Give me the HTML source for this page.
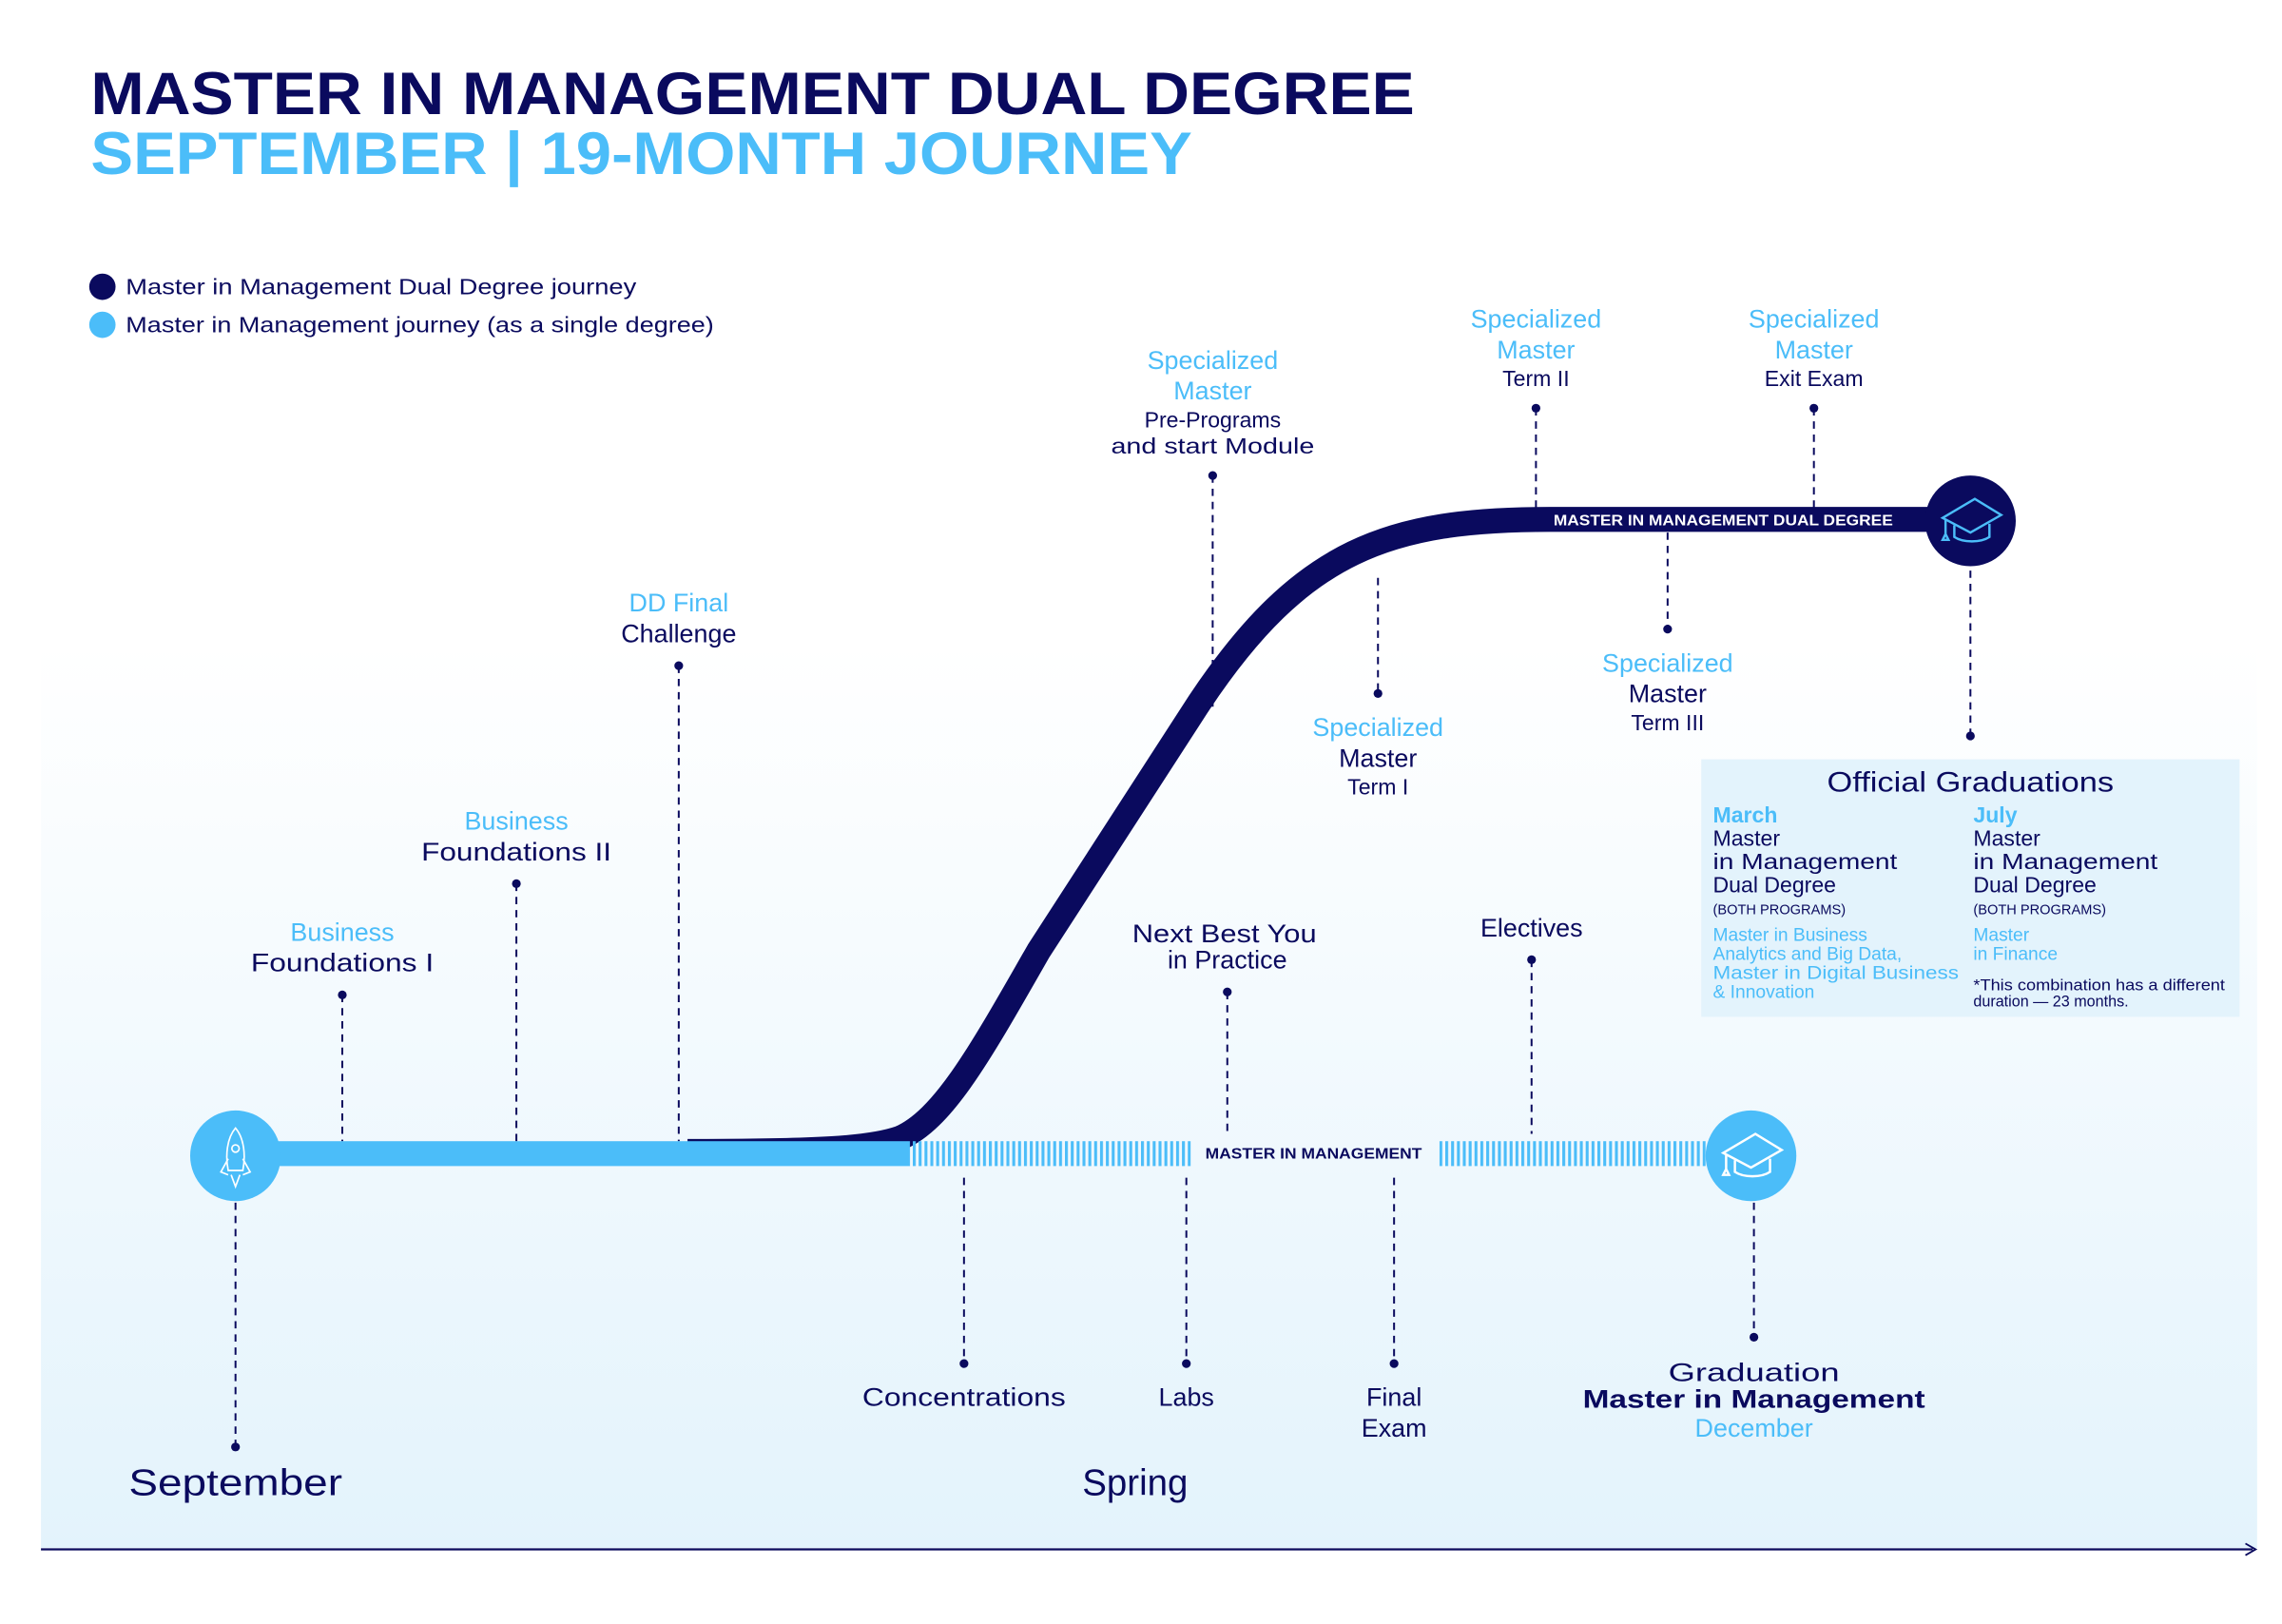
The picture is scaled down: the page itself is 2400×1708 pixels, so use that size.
<!DOCTYPE html>
<html><head><meta charset="utf-8"><style>
html,body{margin:0;padding:0;background:#fff}
svg{display:block}
text{font-family:"Liberation Sans",sans-serif}
</style></head><body>
<svg width="2400" height="1708" viewBox="0 0 1560 1110" preserveAspectRatio="none" xmlns="http://www.w3.org/2000/svg">
<defs>
<linearGradient id="bg" x1="0" y1="0" x2="0" y2="1">
<stop offset="0" stop-color="#ffffff"/><stop offset="1" stop-color="#e3f3fc"/>
</linearGradient>
<pattern id="stripe" width="4" height="20" patternUnits="userSpaceOnUse">
<rect x="0" y="0" width="2" height="20" fill="#4bbdf9"/>
</pattern>
</defs>
<rect x="28" y="440" width="1515" height="618" fill="url(#bg)"/>
<line x1="28" y1="1059" x2="1540" y2="1059" stroke="#0a0a5e" stroke-width="1.5"/>
<path d="M1535 1055 L1542 1059 L1535 1063" fill="none" stroke="#0a0a5e" stroke-width="1.2"/>

<!-- title -->
<text x="62" y="78" font-size="41" font-weight="bold" fill="#0a0a5e" textLength="905" lengthAdjust="spacingAndGlyphs">MASTER IN MANAGEMENT DUAL DEGREE</text>
<text x="62" y="119" font-size="41" font-weight="bold" fill="#4bbdf9" textLength="753" lengthAdjust="spacingAndGlyphs">SEPTEMBER | 19-MONTH JOURNEY</text>
<circle cx="70" cy="196" r="9" fill="#0a0a5e"/>
<circle cx="70" cy="222" r="9" fill="#4bbdf9"/>
<text x="86" y="201" font-size="15" fill="#0a0a5e" textLength="349" lengthAdjust="spacingAndGlyphs">Master in Management Dual Degree journey</text>
<text x="86" y="227" font-size="15" fill="#0a0a5e" textLength="402" lengthAdjust="spacingAndGlyphs">Master in Management journey (as a single degree)</text>

<!-- dashed connectors -->
<g stroke="#0a0a5e" stroke-width="1.3" stroke-dasharray="5,4" fill="none">
<line x1="234" y1="680" x2="234" y2="780"/>
<line x1="353" y1="604" x2="353" y2="780"/>
<line x1="464" y1="455" x2="464" y2="780"/>
<line x1="829" y1="325" x2="829" y2="485"/>
<line x1="1050" y1="279" x2="1050" y2="348"/>
<line x1="1240" y1="279" x2="1240" y2="348"/>
<line x1="942" y1="395" x2="942" y2="474"/>
<line x1="1140" y1="364" x2="1140" y2="430"/>
<line x1="1347" y1="390" x2="1347" y2="503"/>
<line x1="839" y1="678" x2="839" y2="775"/>
<line x1="1047" y1="656" x2="1047" y2="775"/>
<line x1="659" y1="805" x2="659" y2="932"/>
<line x1="811" y1="805" x2="811" y2="932"/>
<line x1="953" y1="805" x2="953" y2="932"/>
<line x1="1199" y1="822" x2="1199" y2="914"/>
<line x1="161" y1="822" x2="161" y2="989"/>
</g>
<g fill="#0a0a5e">
<circle cx="234" cy="680" r="3"/><circle cx="353" cy="604" r="3"/><circle cx="464" cy="455" r="3"/>
<circle cx="829" cy="325" r="3"/><circle cx="1050" cy="279" r="3"/><circle cx="1240" cy="279" r="3"/>
<circle cx="942" cy="474" r="3"/><circle cx="1140" cy="430" r="3"/><circle cx="1347" cy="503" r="3"/>
<circle cx="839" cy="678" r="3"/><circle cx="1047" cy="656" r="3"/><circle cx="659" cy="932" r="3"/>
<circle cx="811" cy="932" r="3"/><circle cx="953" cy="932" r="3"/><circle cx="1199" cy="914" r="3"/>
<circle cx="161" cy="989" r="3"/>
</g>

<!-- navy curve (under the light bar) -->
<path d="M470 787 C 560 787 595 785 615 778 C 645 765 670 720 710 650 L 820 480 C 890 375 950 355 1060 355 L 1347 355" fill="none" stroke="#0a0a5e" stroke-width="17"/>

<!-- light blue track -->
<rect x="162" y="780" width="460" height="17" fill="#4bbdf9"/>
<rect x="622" y="780" width="192" height="17" fill="url(#stripe)"/>
<rect x="984" y="780" width="182" height="17" fill="url(#stripe)"/>
<text x="898" y="792" font-size="10" font-weight="bold" fill="#0a0a5e" text-anchor="middle" textLength="148" lengthAdjust="spacingAndGlyphs">MASTER IN MANAGEMENT</text>

<text x="1178" y="359" font-size="10" font-weight="bold" fill="#fff" text-anchor="middle" textLength="232" lengthAdjust="spacingAndGlyphs">MASTER IN MANAGEMENT DUAL DEGREE</text>

<!-- circles -->
<circle cx="161" cy="790" r="31" fill="#4bbdf9"/>
<g fill="none" stroke="#fff" stroke-width="1.1">
<path d="M161 771 C 155 778 154 790 156 800 L166 800 C 168 790 167 778 161 771 Z"/>
<circle cx="161" cy="785" r="2.5"/>
<path d="M156 792 L151 801 L156 803 M166 792 L171 801 L166 803 M158 803 L161 811 L164 803"/>
</g>
<circle cx="1197" cy="790" r="31" fill="#4bbdf9"/>
<g fill="none" stroke="#fff" stroke-width="1.6">
<path d="M1178 788 L1200 775 L1218 786 L1197 798 Z"/>
<path d="M1186 793 L1186 801 C1192 805 1204 805 1210 801 L1210 792"/>
<path d="M1180 789 L1180 800 M1178 803 L1180 799 L1182 803 Z"/>
</g>
<circle cx="1347" cy="356" r="31" fill="#0a0a5e"/>
<g fill="none" stroke="#4bbdf9" stroke-width="1.6">
<path d="M1328 354 L1350 341 L1368 352 L1347 364 Z"/>
<path d="M1336 359 L1336 367 C1342 371 1354 371 1360 367 L1360 358"/>
<path d="M1330 355 L1330 366 M1328 369 L1330 365 L1332 369 Z"/>
</g>

<!-- top labels -->
<g font-size="17.5" text-anchor="middle">
<text x="234" y="643" fill="#4bbdf9">Business</text><text x="234" y="664" fill="#0a0a5e" textLength="125" lengthAdjust="spacingAndGlyphs">Foundations I</text>
<text x="353" y="567" fill="#4bbdf9">Business</text><text x="353" y="588" fill="#0a0a5e" textLength="130" lengthAdjust="spacingAndGlyphs">Foundations II</text>
<text x="464" y="418" fill="#4bbdf9">DD Final</text><text x="464" y="439" fill="#0a0a5e">Challenge</text>
<text x="829" y="252" fill="#4bbdf9">Specialized</text><text x="829" y="273" fill="#4bbdf9">Master</text>
<text x="1050" y="224" fill="#4bbdf9">Specialized</text><text x="1050" y="245" fill="#4bbdf9">Master</text>
<text x="1240" y="224" fill="#4bbdf9">Specialized</text><text x="1240" y="245" fill="#4bbdf9">Master</text>
<text x="942" y="503" fill="#4bbdf9">Specialized</text><text x="942" y="524" fill="#0a0a5e">Master</text>
<text x="1140" y="459" fill="#4bbdf9">Specialized</text><text x="1140" y="480" fill="#0a0a5e">Master</text>
<text x="837" y="644" fill="#0a0a5e" textLength="126" lengthAdjust="spacingAndGlyphs">Next Best You</text><text x="839" y="662" fill="#0a0a5e">in Practice</text>
<text x="1047" y="640" fill="#0a0a5e">Electives</text>
<text x="659" y="961" fill="#0a0a5e" textLength="139" lengthAdjust="spacingAndGlyphs">Concentrations</text>
<text x="811" y="961" fill="#0a0a5e">Labs</text>
<text x="953" y="961" fill="#0a0a5e">Final</text><text x="953" y="982" fill="#0a0a5e">Exam</text>
<text x="1199" y="944" fill="#0a0a5e" textLength="117" lengthAdjust="spacingAndGlyphs">Graduation</text>
<text x="1199" y="962" fill="#0a0a5e" font-weight="bold" textLength="234" lengthAdjust="spacingAndGlyphs">Master in Management</text>
<text x="1199" y="982" fill="#4bbdf9">December</text>
</g>
<g font-size="15" text-anchor="middle" fill="#0a0a5e">
<text x="829" y="292">Pre-Programs</text><text x="829" y="310" textLength="139" lengthAdjust="spacingAndGlyphs">and start Module</text>
<text x="1050" y="264">Term II</text><text x="1240" y="264">Exit Exam</text>
<text x="942" y="543">Term I</text><text x="1140" y="499">Term III</text>
</g>
<text x="161" y="1022" font-size="25" fill="#0a0a5e" text-anchor="middle" textLength="146" lengthAdjust="spacingAndGlyphs">September</text>
<text x="776" y="1022" font-size="25" fill="#0a0a5e" text-anchor="middle">Spring</text>

<!-- graduations box -->
<rect x="1163" y="519" width="368" height="176" fill="#e3f3fc"/>
<text x="1347" y="541" font-size="19" fill="#0a0a5e" text-anchor="middle" textLength="196" lengthAdjust="spacingAndGlyphs">Official Graduations</text>
<g font-size="15">
<text x="1171" y="562" fill="#4bbdf9" font-weight="bold">March</text>
<text x="1171" y="578" fill="#0a0a5e">Master</text>
<text x="1171" y="594" fill="#0a0a5e" textLength="126" lengthAdjust="spacingAndGlyphs">in Management</text>
<text x="1171" y="610" fill="#0a0a5e">Dual Degree</text>
<text x="1349" y="562" fill="#4bbdf9" font-weight="bold">July</text>
<text x="1349" y="578" fill="#0a0a5e">Master</text>
<text x="1349" y="594" fill="#0a0a5e" textLength="126" lengthAdjust="spacingAndGlyphs">in Management</text>
<text x="1349" y="610" fill="#0a0a5e">Dual Degree</text>
</g>
<g font-size="9.5" fill="#0a0a5e">
<text x="1171" y="625">(BOTH PROGRAMS)</text><text x="1349" y="625">(BOTH PROGRAMS)</text>
</g>
<g font-size="12.5" fill="#4bbdf9">
<text x="1171" y="643">Master in Business</text>
<text x="1171" y="656">Analytics and Big Data,</text>
<text x="1171" y="669" textLength="168" lengthAdjust="spacingAndGlyphs">Master in Digital Business</text>
<text x="1171" y="682">&amp; Innovation</text>
<text x="1349" y="643">Master</text>
<text x="1349" y="656">in Finance</text>
</g>
<g font-size="10.5" fill="#0a0a5e">
<text x="1349" y="677" textLength="172" lengthAdjust="spacingAndGlyphs">*This combination has a different</text>
<text x="1349" y="688">duration — 23 months.</text>
</g>
</svg>
</body></html>
